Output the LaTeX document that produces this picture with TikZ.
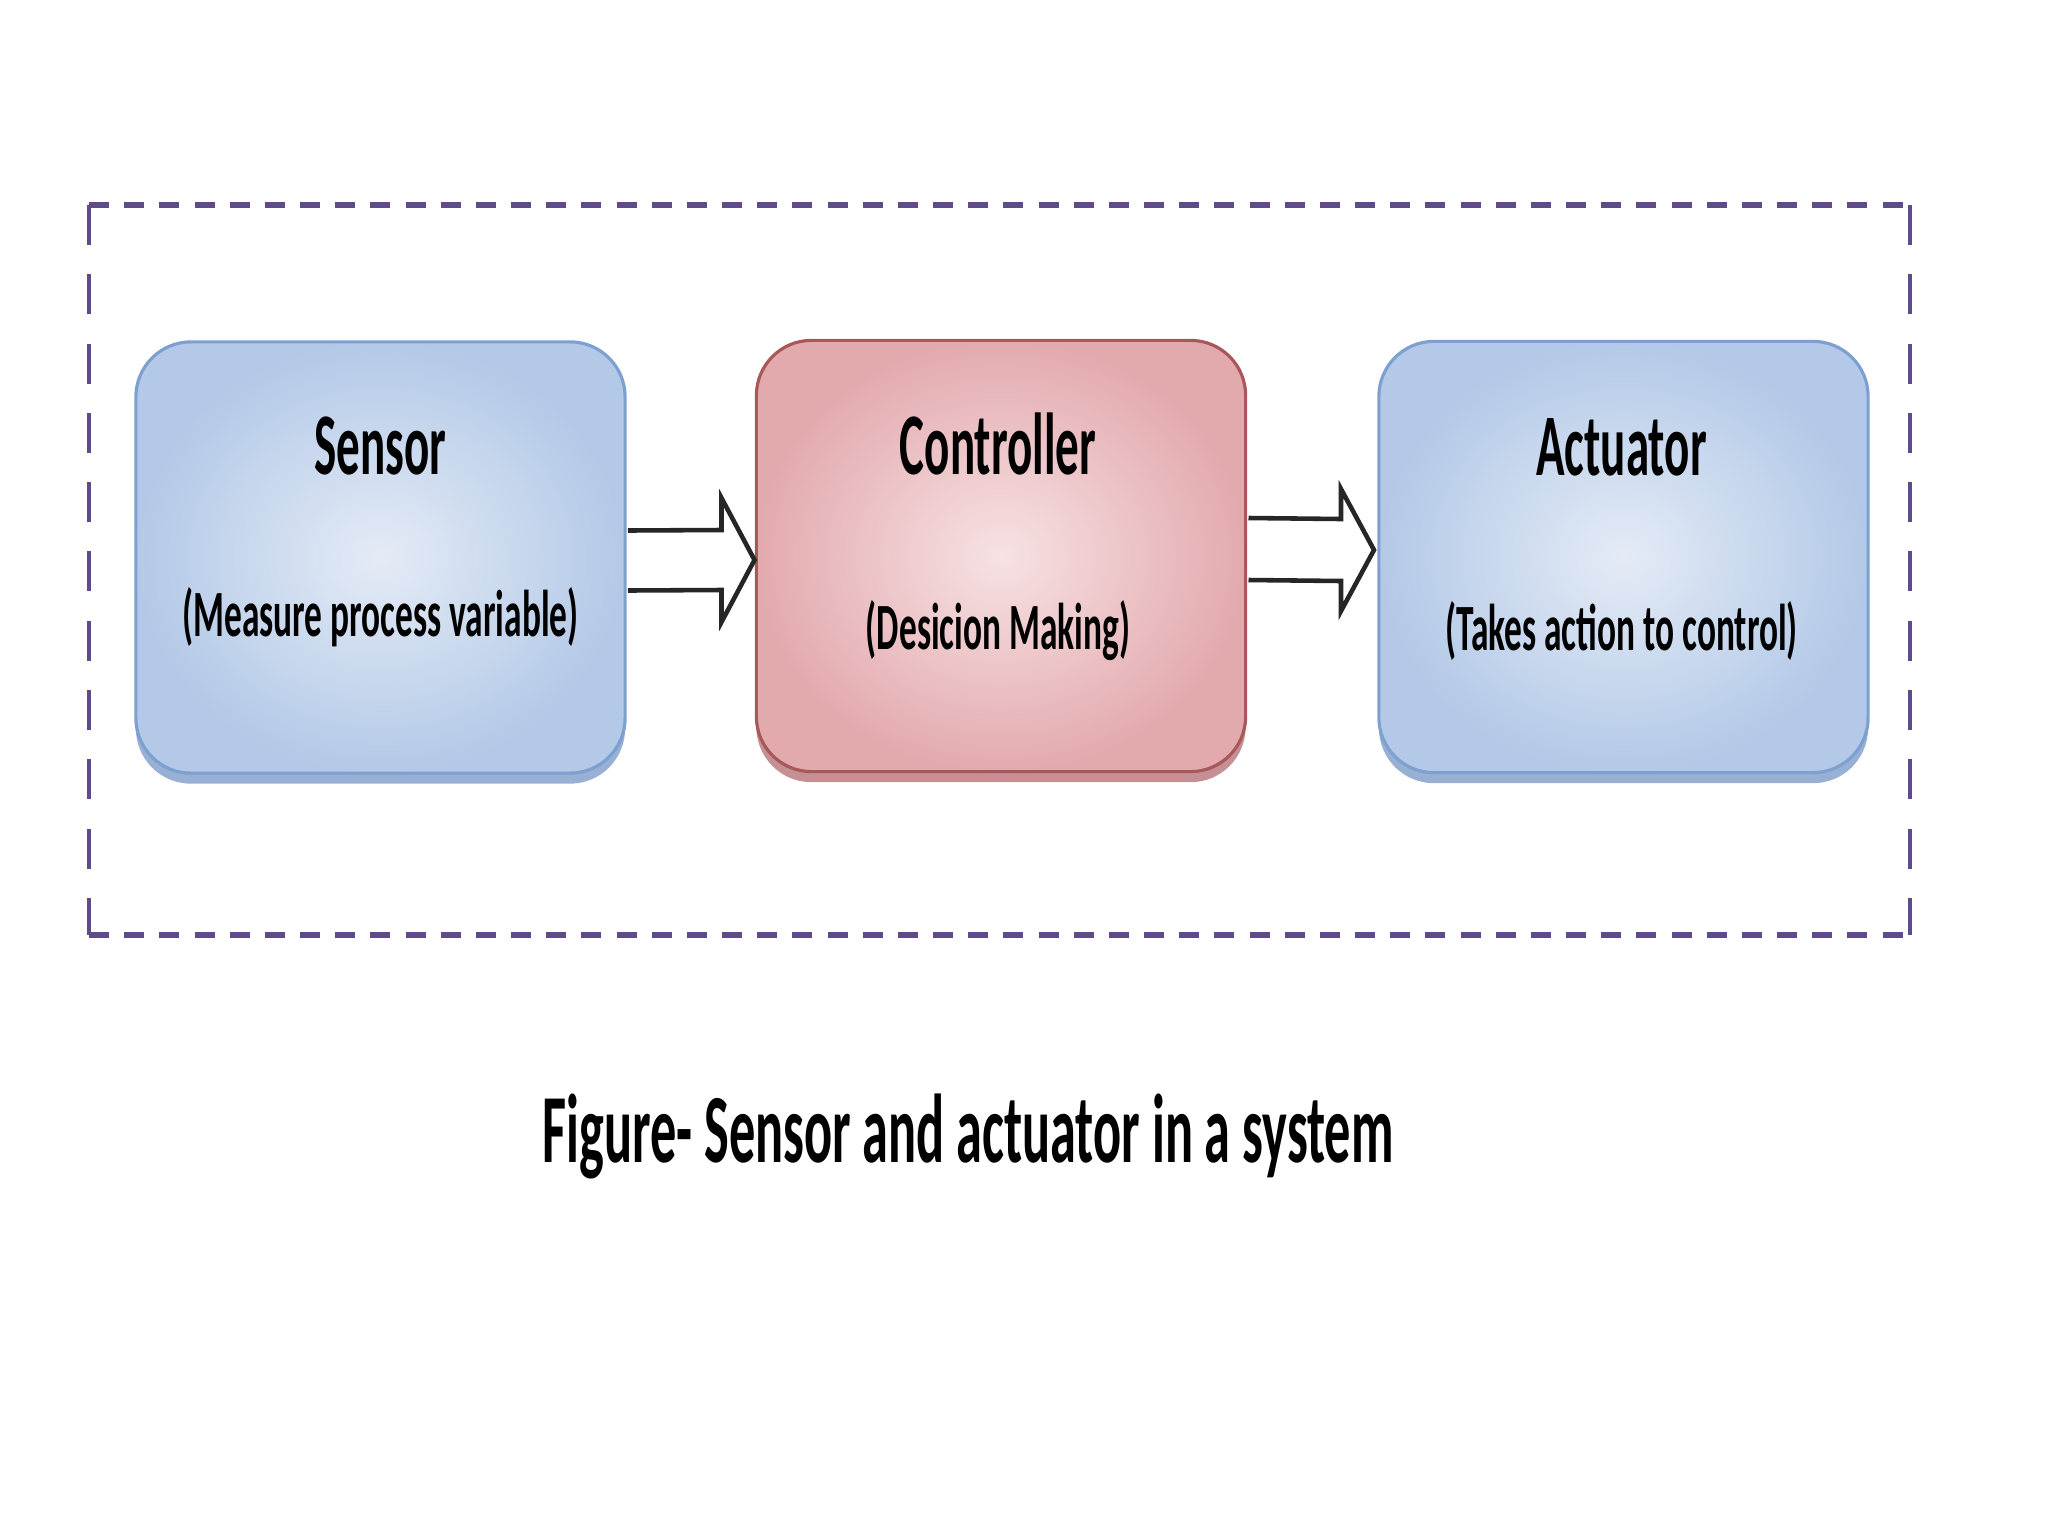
\documentclass[tikz,border=0pt]{standalone}
\usepackage{fontspec}
\setmainfont{Carlito}
\usetikzlibrary{calc}
\usetikzlibrary{shadows}

\definecolor{frameviolet}{HTML}{5F4B8B}
\definecolor{bluefill}{HTML}{E4EBF6}
\definecolor{blueedge}{HTML}{B3C9E7}
\definecolor{blueline}{HTML}{7DA0D0}
\definecolor{blueshadow}{HTML}{8CA7CF}
\definecolor{pinkfill}{HTML}{F7E2E4}
\definecolor{pinkedge}{HTML}{E3AAAE}
\definecolor{pinkline}{HTML}{A8575A}
\definecolor{pinkshadow}{HTML}{BE8487}

\tikzset{
  squeeze/.style={xscale=0.55, transform shape},
  narrow/.style={xscale=0.535, transform shape},
  unit/.style={squeeze, rounded corners=0.55cm, minimum width=8.89cm,
    minimum height=4.31cm, line width=0.9pt},
  bluebox/.style={unit, draw=blueline, inner color=bluefill, outer color=blueedge,
    drop shadow={shadow xshift=0pt, shadow yshift=-3pt, fill=blueshadow, opacity=0.9}},
  pinkbox/.style={unit, draw=pinkline, inner color=pinkfill, outer color=pinkedge,
    drop shadow={shadow xshift=0pt, shadow yshift=-3pt, fill=pinkshadow, opacity=0.9}},
  title/.style={narrow, font=\fontsize{25}{30}\selectfont\bfseries, inner sep=0pt, anchor=base},
  note/.style={narrow, font=\fontsize{18.8}{22}\selectfont\bfseries, inner sep=0pt, anchor=base},
  caption/.style={narrow, font=\fontsize{27.8}{32}\selectfont\bfseries, inner sep=0pt, anchor=base},
  hollow/.style={fill=white, draw=black!85, line width=1.3pt, line join=miter},
  framex/.style={draw=frameviolet, line width=1.6pt, dash pattern=on 5.7pt off 4.3pt},
  framey/.style={draw=frameviolet, line width=1.1pt, dash pattern=on 11.4pt off 8.3pt},
}

\begin{document}
\begin{tikzpicture}[x=0.01cm, y=0.01cm]

    \useasboundingbox (0,0) rectangle (2048,-1536);

    % 虚线外框的四个角
    \coordinate (NW) at (89, -205);
    \coordinate (NE) at (1910, -205);
    \coordinate (SE) at (1910, -935);
    \coordinate (SW) at (89, -935);

    % 画虚线外框
    \draw[framex] (NW) -- (NE);
    \draw[framex] (SW) -- (SE);
    \draw[framey] (NW) -- (SW);
    \draw[framey] (NE) -- (SE);

    % 三个方框
    \node[bluebox] (sensor) at (380.5, -557.5) {};
    \node[pinkbox] (ctrl)   at (1001, -556) {};
    \node[bluebox] (act)    at (1623.5, -557) {};

    % 方框里的文字
    \node[title] (sensorT) at ($(sensor.north)+(0,-134)$) {Sensor};
    \node[note]  (sensorN) at ($(sensor.north)+(0,-296)$) {(Measure process variable)};
    \node[title] (ctrlT)   at ($(ctrl.north)+(-3,-136)$) {Controller};
    \node[note]  (ctrlN)   at ($(ctrl.north)+(-3,-311)$) {(Desicion Making)};
    \node[title] (actT)    at ($(act.north)+(-2,-136)$) {Actuator};
    \node[note]  (actN)    at ($(act.north)+(-2,-311)$) {(Takes action to control)};

    % 空心箭头 sensor -> controller
    \coordinate (a1s) at ($(sensor.east)+(2,-3)$);
    \coordinate (a1t) at ($(ctrl.west)+(-1,-4)$);
    \filldraw[hollow] ($(a1s)+(0,30)$) -- ($(a1t)+(-33,30)$) -- ($(a1t)+(-33,62)$)
        -- (a1t) -- ($(a1t)+(-33,-62)$) -- ($(a1t)+(-33,-30)$) -- ($(a1s)+(0,-30)$);
    % 空心箭头 controller -> actuator
    \coordinate (a2s) at ($(ctrl.east)+(2,7)$);
    \coordinate (a2t) at ($(act.west)+(-4,7)$);
    \filldraw[hollow] ($(a2s)+(0,31)$) -- ($(a2t)+(-33,31)$) -- ($(a2t)+(-33,61)$)
        -- (a2t) -- ($(a2t)+(-33,-61)$) -- ($(a2t)+(-33,-31)$) -- ($(a2s)+(0,-31)$);

    % 图注
    \node[caption] (cap) at (968, -1162) {Figure- Sensor and actuator in a system};

\end{tikzpicture}
\end{document}
